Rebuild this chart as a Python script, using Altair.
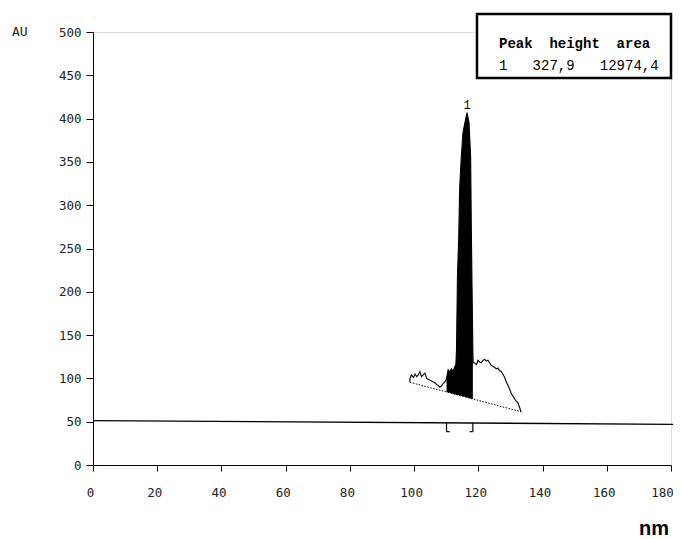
import altair as alt
import pandas as pd

# ---- data ----
trace_x = [98.7, 98.7, 99.2, 99.8, 100.3, 100.8, 101.3, 101.8, 102.3, 102.8, 103.4, 103.9,
           104.4, 104.9, 105.4, 105.9, 106.5, 107.0, 107.5, 108.0, 108.5, 108.8, 109.6,
           110.1, 110.6, 111.1, 111.6, 112.1, 112.6, 113.0, 113.2, 113.5, 113.9, 114.2,
           114.7, 115.2, 115.8, 116.5, 117.1, 117.6, 117.8, 118.0, 118.3, 118.4, 118.8,
           119.4, 119.9, 120.4, 120.9, 121.5, 122.0, 122.5, 123.0, 123.5, 124.0, 124.5,
           125.0, 125.6, 126.1, 126.6, 127.1, 127.6, 128.1, 128.6, 129.2, 129.7, 130.2,
           130.7, 131.2, 131.7, 132.3, 132.8, 133.3]
trace_y = [95.5, 100, 104, 101, 105, 102, 104, 108, 102, 104, 106, 100,
           99, 98, 97, 96, 95, 93, 92, 90, 91, 93, 96,
           100, 110, 107, 111, 108, 113, 116, 133, 217, 264, 321,
           356, 383, 395, 407, 395, 356, 279, 217, 130, 118, 118,
           116, 121, 119, 118, 121, 122, 120, 121, 118, 115, 114,
           113, 111, 112, 109, 108, 105, 102, 97, 92, 88, 83,
           80, 77, 74, 72, 67, 61.5]

baseline_x = [98.7, 133.3]
baseline_y = [95.5, 61.5]

integ_start = 110.1
integ_end = 118.3
bracket_top = 48.5
bracket_bottom = 38.5
bracket_foot = 1.0

peak_x = [116.5]
peak_y = [407]
peak_label = ["1"]

ref_x = [0, 181]
ref_y = [51.2, 47.0]

x_ticks = [0, 20, 40, 60, 80, 100, 120, 140, 160, 180]
y_ticks = [0, 50, 100, 150, 200, 250, 300, 350, 400, 450, 500]

NB = "\u00a0"
legend_header = "Peak" + NB * 2 + "height" + NB * 2 + "area"
legend_row = "1" + NB * 3 + "327,9" + NB * 3 + "12974,4"
y_unit = "AU"
x_unit = "nm"

# ---- tables ----
trace = pd.DataFrame({"x": trace_x, "y": trace_y, "i": list(range(len(trace_x)))})
base = pd.DataFrame({"x": baseline_x, "y": baseline_y})
fill = trace[(trace.x >= integ_start) & (trace.x <= integ_end)].copy()
ref = pd.DataFrame({"x": ref_x, "y": ref_y})
peaks = pd.DataFrame({"x": peak_x, "y": peak_y, "t": peak_label})
brackets = pd.DataFrame({
    "x": [integ_start, integ_start, integ_end, integ_end - bracket_foot],
    "x2": [integ_start, integ_start + bracket_foot, integ_end, integ_end],
    "y": [bracket_top, bracket_bottom, bracket_top, bracket_bottom],
    "y2": [bracket_bottom, bracket_bottom, bracket_bottom, bracket_bottom],
})
one = pd.DataFrame({"k": [0]})

W, H = 578, 433
xs = alt.Scale(domain=[0, 180], nice=False, zero=False)
ys = alt.Scale(domain=[0, 500], nice=False, zero=False)
MONO = "DejaVu Sans Mono"

x_axis = alt.Axis(values=x_ticks, format="d", title=None, grid=False, tickSize=6,
                  labelPadding=15, labelFont=MONO, labelFontSize=12.5, labelColor="#222",
                  labelOffset={"expr": "datum.value == 180 ? -9 : -3"},
                  domainColor="black", tickColor="black", labelFlush=False)
y_axis = alt.Axis(values=y_ticks, format="d", title=None, grid=False, tickSize=7,
                  labelPadding=5, labelFont=MONO, labelFontSize=12.5, labelColor="#222",
                  domainColor="black", tickColor="black", labelFlush=False)

b0, b1 = baseline_y
x0, x1 = baseline_x
slope = (b1 - b0) / (x1 - x0)

area = alt.Chart(fill).transform_calculate(
    yb=f"{b0} + (datum.x - {x0}) * {slope}"
).mark_area(color="black", interpolate="linear").encode(
    x=alt.X("x:Q", scale=xs, axis=x_axis),
    y=alt.Y("y:Q", scale=ys, axis=y_axis),
    y2="yb:Q",
)

line = alt.Chart(trace).mark_line(color="black", strokeWidth=1.1).encode(
    x=alt.X("x:Q", scale=xs), y=alt.Y("y:Q", scale=ys), order="i:Q")

bline = alt.Chart(base).mark_line(color="black", strokeWidth=1, strokeDash=[1.5, 1.5]).encode(
    x=alt.X("x:Q", scale=xs), y=alt.Y("y:Q", scale=ys))

refline = alt.Chart(ref).mark_line(color="black", strokeWidth=1.3).encode(
    x=alt.X("x:Q", scale=xs), y=alt.Y("y:Q", scale=ys))

brk = alt.Chart(brackets).mark_rule(color="black", strokeWidth=1.2).encode(
    x=alt.X("x:Q", scale=xs), x2="x2:Q", y=alt.Y("y:Q", scale=ys), y2="y2:Q")

plabel = alt.Chart(peaks).mark_text(font="Liberation Mono", fontSize=12, baseline="bottom",
                                    dy=-1, color="black").encode(
    x=alt.X("x:Q", scale=xs), y=alt.Y("y:Q", scale=ys), text="t:N")

box = alt.Chart(one).mark_rect(fill="white", stroke="black", strokeWidth=2.5).encode(
    x=alt.value(384), x2=alt.value(578), y=alt.value(-18), y2=alt.value(46))

head = alt.Chart(one).mark_text(font="Liberation Mono", fontSize=14, fontWeight="bold",
                                align="left", baseline="alphabetic", color="black").encode(
    x=alt.value(406), y=alt.value(16), text=alt.value(legend_header))

row = alt.Chart(one).mark_text(font="Liberation Mono", fontSize=14,
                               align="left", baseline="alphabetic", color="black").encode(
    x=alt.value(406), y=alt.value(38), text=alt.value(legend_row))

au = alt.Chart(one).mark_text(font=MONO, fontSize=13, align="left", baseline="middle",
                              color="#222").encode(
    x=alt.value(-81), y=alt.value(0), text=alt.value(y_unit))

nm = alt.Chart(one).mark_text(font="Liberation Sans Narrow, Liberation Sans", fontSize=20,
                              fontWeight="bold", align="right", baseline="alphabetic",
                              color="black").encode(
    x=alt.value(576), y=alt.value(503), text=alt.value(x_unit))

chart = alt.layer(area, line, bline, refline, brk, plabel, box, head, row, au, nm).properties(
    width=W, height=H,
    autosize=alt.AutoSizeParams(type="none"),
    padding={"left": 85, "top": 24, "right": 2, "bottom": 74},
).configure_view(strokeWidth=0).configure(background="white")

chart.save("out.html", embed_options={"renderer": "svg", "actions": False})
